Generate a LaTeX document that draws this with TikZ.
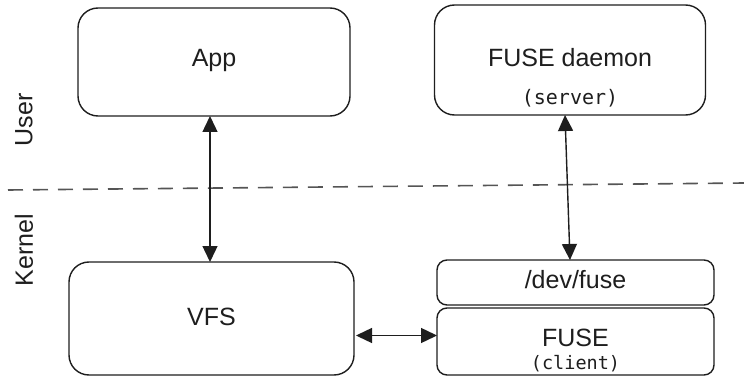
\documentclass[tikz,border=0pt]{standalone}
\usepackage{fontspec}
\setmainfont{Liberation Sans}
\setmonofont{DejaVu Sans Mono}
\usetikzlibrary{arrows.meta,calc}
\definecolor{ink}{HTML}{1E1E1E}
\definecolor{dashgray}{HTML}{555555}
\tikzset{
  box/.style={draw=ink, line width=1.4pt, rounded corners=20pt, fill=white,
    inner sep=0pt, outer sep=0pt},
  thinbox/.style={box, rounded corners=10pt},
  lbl/.style={inner sep=0pt, font=\fontsize{25}{30}\selectfont, text=ink},
  sublbl/.style={inner sep=0pt, font=\ttfamily\fontsize{20}{24}\selectfont, text=ink},
  side/.style={lbl, rotate=90},
  link/.style={draw=ink, line width=1.4pt,
    arrows={Triangle[length=16pt,width=15pt]-Triangle[length=16pt,width=15pt]}},
  divider/.style={draw=dashgray, line width=1.6pt, dash pattern=on 15pt off 10pt}
}
\begin{document}
\begin{tikzpicture}[x=1pt,y=-1pt]
  \useasboundingbox (0,0) rectangle (744,377);

  % user / kernel boundary
  \coordinate (divl) at (8,190);
  \coordinate (divr) at (744,183);
  \draw[divider] (divl) -- (divr);
  \node[side] (user) at (24,120) {User};
  \node[side] (kernel) at (24,250) {Kernel};

  % user space
  \node[box, minimum width=272pt, minimum height=108pt] (app) at (214,62) {};
  \node[lbl] (apptxt) at (214,60) {App};
  \node[box, minimum width=271pt, minimum height=110pt] (daemon) at (570,60) {};
  \node[lbl] (daemontxt) at (570,58) {FUSE daemon};
  \node[sublbl] (servertxt) at (570,98) {(server)};

  % kernel space
  \node[box, minimum width=285pt, minimum height=113pt] (vfs) at (211.5,318.5) {};
  \node[lbl] (vfstxt) at (211.5,317) {VFS};
  \node[thinbox, minimum width=277pt, minimum height=45pt] (devfuse) at (575.5,282.5) {};
  \node[lbl] (devfusetxt) at (575.5,280) {/dev/fuse};
  \node[thinbox, minimum width=277pt, minimum height=67pt] (fuse) at (575.5,341.5) {};
  \node[lbl] (fusetxt) at (575.5,338) {FUSE};
  \node[sublbl, font=\ttfamily\fontsize{18.5}{22}\selectfont] (clienttxt) at (575.5,364) {(client)};

  % connectors
  \draw[link] ($(app.south)+(-4,0)$) -- ($(vfs.north)+(-1.5,0)$);
  \draw[link] ($(daemon.south)+(-5,0)$) -- ($(devfuse.north)+(-5.5,0)$);
  \draw[link] ($(vfs.east)+(2,17)$) -- ($(fuse.west)+(0,-6)$);
\end{tikzpicture}
\end{document}
